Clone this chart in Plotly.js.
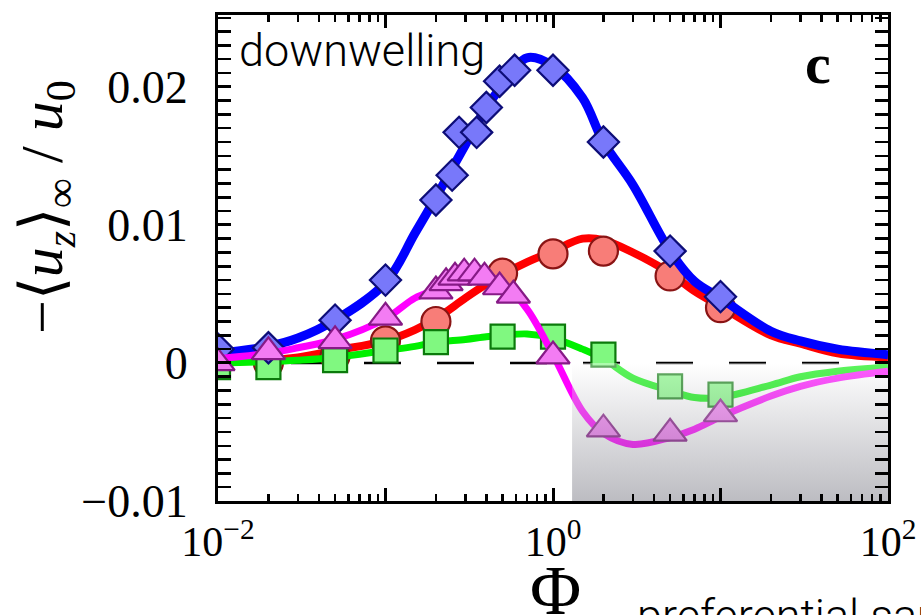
<!DOCTYPE html>
<html>
<head>
<meta charset="utf-8">
<script src="https://cdn.plot.ly/plotly-3.0.1.min.js"></script>
<style>body{margin:0;background:#fff}#chart{width:921px;height:615px}</style>
</head>
<body>
<div id="chart"></div>
<script>
// ---- data ----
const curveX = [0.01,0.02,0.03,0.05,0.1,0.15,0.2,0.3,0.4,0.5,0.7,1,1.5,2,3,5,7,10,20,30,50,100];
const blueFit    = [0.0007,0.0012,0.0018,0.0031,0.0058,0.0094,0.0120,0.0158,0.0185,0.0201,0.0221,0.0215,0.0192,0.0160,0.0129,0.0081,0.0059,0.0047,0.0023,0.0016,0.0010,0.0006];
const redFit     = [0.0001,0.0002,0.0004,0.0009,0.0016,0.0024,0.0032,0.0047,0.0057,0.0064,0.0073,0.0081,0.0090,0.0089,0.0080,0.0065,0.0052,0.0041,0.0020,0.0014,0.0007,0.0004];
const magentaFit = [0.0003,0.0007,0.0011,0.0017,0.0032,0.0047,0.0053,0.0062,0.0063,0.0058,0.0039,0.0006,-0.0035,-0.0051,-0.0059,-0.0054,-0.0048,-0.0039,-0.0024,-0.0017,-0.0011,-0.0006];
const greenFit   = [0.0000,0.0001,0.0002,0.0004,0.0009,0.0012,0.0015,0.0017,0.0019,0.0020,0.0021,0.0018,0.0010,0.0003,-0.0011,-0.0020,-0.0025,-0.0025,-0.0016,-0.0010,-0.0006,-0.0003];

const blueX = [0.01,0.02,0.05,0.1,0.2,0.25,0.275,0.35,0.4,0.48,0.59,1,2,5,10];
const blueY = [0.0010,0.0011,0.0031,0.0060,0.0118,0.0136,0.0167,0.0167,0.0185,0.0204,0.0212,0.0212,0.0160,0.0081,0.0048];
const redX = [0.01,0.02,0.05,0.1,0.2,0.5,1,2,5,10];
const redY = [0.0000,0.0000,0.0005,0.0016,0.0030,0.0065,0.0079,0.0081,0.0063,0.0040];
const greenX = [0.01,0.02,0.05,0.1,0.2,0.5,1,2,5,10];
const greenY = [-0.0003,-0.0003,0.0002,0.0009,0.0015,0.0019,0.0019,0.0006,-0.0017,-0.0023];
const magX = [0.01,0.02,0.05,0.1,0.2,0.23,0.26,0.295,0.34,0.39,0.48,0.58,1,2,5,10];
const magY = [0.0000,0.0008,0.0016,0.0033,0.0052,0.0058,0.0062,0.0065,0.0065,0.0062,0.0055,0.0049,0.0005,-0.0048,-0.0051,-0.0037];

const xLabelVals = [0.01,1,100];
const xLabelText = ['10<sup>−2</sup>','10<sup>0</sup>','10<sup>2</sup>'];
const xUnlabeledMajor = [0.1,10];
const shadeStart = 1.3;   // left edge of the shaded (negative) region
const shadeEnd = 100;

// ---- build ----
const minorX = [];
[-2,-1,0,1].forEach(e => { for (let k = 2; k <= 9; k++) minorX.push(k * Math.pow(10, e)); });

function series(fitY, mx, my, lineColor, lineWidth, symbol, size, fill, edge) {
  return [
    {x: curveX, y: fitY, mode:'lines', line:{color:lineColor, width:lineWidth, shape:'spline', smoothing:1}, hoverinfo:'skip'},
    {x: mx, y: my, mode:'markers', marker:{symbol:symbol, size:size, color:fill, line:{color:edge, width:2.2}}}
  ];
}

const traces = [].concat(
  series(redFit, redX, redY, '#ff0000', 8, 'circle', 29, '#f87d78', '#8a1414'),
  series(greenFit, greenX, greenY, '#00f000', 7, 'square', 24, '#80f880', '#0b7a0b'),
  series(blueFit, blueX, blueY, '#0000ff', 9, 'diamond', 24, '#7878fa', '#0d0d78'),
  series(magentaFit, magX, magY, '#ff00ff', 7, 'triangle-up', 29, '#f37cf3', '#861a86')
);

traces.push({
  x: [shadeStart, shadeEnd, shadeEnd, shadeStart, shadeStart],
  y: [0, 0, -0.01, -0.01, 0],
  xaxis: 'x2', yaxis: 'y',
  mode: 'lines', fill: 'toself', line: {width: 0, color: 'rgba(0,0,0,0)'},
  fillgradient: {type: 'vertical', colorscale: [[0, 'rgba(70,70,85,0.36)'], [1, 'rgba(255,255,255,0.36)']]},
  hoverinfo: 'skip'
});

const tickCommon = {
  ticks: 'inside', ticklen: 13, tickwidth: 3, tickcolor: 'black',
  showgrid: false, zeroline: false,
  tickfont: {family: 'Liberation Serif, serif', size: 46, color: 'black'}
};

const layout = {
  width: 921, height: 615,
  margin: {l: 218, r: 33, t: 15, b: 114},
  paper_bgcolor: 'white', plot_bgcolor: 'white',
  showlegend: false,
  xaxis: Object.assign({}, tickCommon, {
    type: 'log', range: [-2, 2],
    showline: true, linewidth: 3, linecolor: 'black', mirror: 'allticks',
    tickmode: 'array', tickvals: xLabelVals, ticktext: xLabelText,
    tickfont: {family: 'Liberation Serif, serif', size: 42, color: 'black'},
    ticklabelstandoff: 2,
    minor: {tickmode: 'array', tickvals: minorX, ticks: 'inside', ticklen: 7, tickwidth: 2.5, tickcolor: 'black', showgrid: false}
  }),
  xaxis2: Object.assign({}, tickCommon, {
    type: 'log', range: [-2, 2], overlaying: 'x', side: 'bottom',
    showline: true, linewidth: 3, linecolor: 'black', mirror: 'allticks',
    tickmode: 'array', tickvals: xUnlabeledMajor, showticklabels: false
  }),
  yaxis: Object.assign({}, tickCommon, {
    range: [-0.01, 0.0252], tick0: 0, dtick: 0.01,
    showline: true, linewidth: 3, linecolor: 'black', mirror: 'allticks',
    ticklabelstandoff: 18,
    minor: {dtick: 0.001, ticks: 'inside', ticklen: 7, tickwidth: 2.5, tickcolor: 'black', showgrid: false}
  }),
  shapes: [{
    type: 'line', xref: 'paper', x0: 0, x1: 1, yref: 'y', y0: 0, y1: 0,
    line: {color: 'black', width: 2.5, dash: '37px,36px'}, layer: 'below'
  }],
  annotations: [
    {text: 'downwelling', xref: 'paper', yref: 'paper', x: 0.028, y: 0.926, xanchor: 'left', yanchor: 'middle', showarrow: false,
     font: {family: 'Roboto, sans-serif', size: 45, weight: 300, color: 'black'}},
    {text: '<b>c</b>', xref: 'paper', yref: 'paper', x: 0.896, y: 0.90, xanchor: 'center', yanchor: 'middle', showarrow: false,
     font: {family: 'Liberation Serif, serif', size: 58, color: 'black'}},
    {text: '−⟨<i>u<sub>z</sub></i>⟩<sub>∞</sub> / <i>u</i><sub>0</sub>', xref: 'paper', yref: 'paper', x: -0.255, y: 0.605, xanchor: 'center', yanchor: 'middle',
     textangle: -90, showarrow: false, font: {family: 'Liberation Serif, serif', size: 60, color: 'black'}},
    {text: 'Φ', xref: 'paper', yref: 'paper', x: 0.504, y: -0.1, xanchor: 'center', yanchor: 'top', showarrow: false,
     font: {family: 'Liberation Serif, serif', size: 70, color: 'black'}},
    {text: 'preferential sampling', xref: 'paper', yref: 'paper', x: 0.622, y: -0.235, xanchor: 'left', yanchor: 'middle', showarrow: false,
     font: {family: 'Roboto, sans-serif', size: 45, weight: 300, color: 'black'}}
  ]
};

Plotly.newPlot('chart', traces, layout, {displayModeBar: false, staticPlot: true});
</script>
</body>
</html>
